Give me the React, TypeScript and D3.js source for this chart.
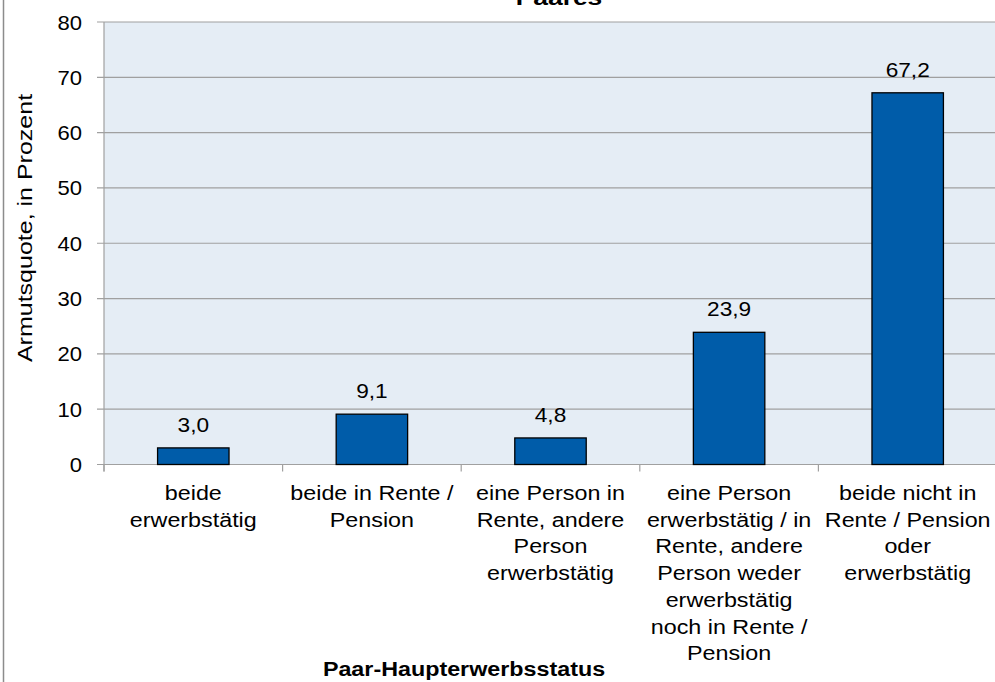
import React, { useEffect, useRef } from 'react';
import * as d3 from 'd3';

const categories: string[][] = [
  ['beide', 'erwerbstätig'],
  ['beide in Rente /', 'Pension'],
  ['eine Person in', 'Rente, andere', 'Person', 'erwerbstätig'],
  ['eine Person', 'erwerbstätig / in', 'Rente, andere', 'Person weder', 'erwerbstätig', 'noch in Rente /', 'Pension'],
  ['beide nicht in', 'Rente / Pension', 'oder', 'erwerbstätig'],
];
const values = [3.0, 9.1, 4.8, 23.9, 67.2];
const yTicks = [0, 10, 20, 30, 40, 50, 60, 70, 80];

const title = 'Paares';
const xTitle = 'Paar-Haupterwerbsstatus';
const yTitle = 'Armutsquote, in Prozent';

const fmt = (v: number) => v.toFixed(1).replace('.', ',');

export default function App() {
  const ref = useRef<SVGSVGElement>(null);

  useEffect(() => {
    const width = 995;
    const height = 682;
    const svg = d3.select(ref.current);
    svg.selectAll('*').remove();

    const left = 104;
    const right = 997;
    const top = 22;
    const bottom = 464.5;
    const font = 'Arial, "Liberation Sans", sans-serif';

    const x = d3.scaleBand<number>()
      .domain(d3.range(values.length))
      .range([left, right])
      .paddingInner(0)
      .paddingOuter(0);

    const y = d3.scaleLinear().domain([0, 80]).range([bottom, top]);

    // text stretched a bit horizontally, like the original rendering
    const text = (g: any, tx: number, ty: number, s: string, size: number, anchor: string, sx: number, weight = 'normal') =>
      g.append('text')
        .attr('transform', `translate(${tx},${ty}) scale(${sx},1)`)
        .attr('text-anchor', anchor)
        .attr('font-family', font)
        .attr('font-size', size)
        .attr('font-weight', weight)
        .attr('fill', '#000')
        .text(s);

    // outer frame line on the left
    svg.append('line')
      .attr('x1', 3.5).attr('x2', 3.5).attr('y1', 0).attr('y2', height)
      .attr('stroke', '#8c8c8c').attr('stroke-width', 1.5);

    // plot background
    svg.append('rect')
      .attr('x', left).attr('y', top)
      .attr('width', right - left).attr('height', bottom - top)
      .attr('fill', '#e5edf5');

    // gridlines
    svg.append('g').selectAll('line')
      .data(yTicks)
      .join('line')
      .attr('x1', left - 7).attr('x2', right)
      .attr('y1', d => y(d)).attr('y2', d => y(d))
      .attr('stroke', '#a0a0a0').attr('stroke-width', 1.2);

    // y axis line
    svg.append('line')
      .attr('x1', left).attr('x2', left).attr('y1', top).attr('y2', bottom + 7)
      .attr('stroke', '#a0a0a0').attr('stroke-width', 1.2);

    // x tick marks at band boundaries
    svg.append('g').selectAll('line')
      .data(d3.range(values.length + 1))
      .join('line')
      .attr('x1', d => left + d * x.bandwidth()).attr('x2', d => left + d * x.bandwidth())
      .attr('y1', bottom).attr('y2', bottom + 7)
      .attr('stroke', '#a0a0a0').attr('stroke-width', 1.2);

    // y tick labels
    const yl = svg.append('g');
    yTicks.forEach(t => text(yl, 82, y(t) + 7.5, String(t), 21, 'end', 1.05));

    // bars
    const bw = x.bandwidth() * 0.4;
    svg.append('g').selectAll('rect')
      .data(values)
      .join('rect')
      .attr('x', (_, i) => (x(i) as number) + (x.bandwidth() - bw) / 2)
      .attr('y', d => y(d))
      .attr('width', bw)
      .attr('height', d => y(0) - y(d))
      .attr('fill', '#005ca9')
      .attr('stroke', '#000')
      .attr('stroke-width', 1.3);

    // value labels
    const vl = svg.append('g');
    values.forEach((v, i) => text(vl, (x(i) as number) + x.bandwidth() / 2, y(v) - 16, fmt(v), 21, 'middle', 1.08));

    // category labels
    const cl = svg.append('g');
    categories.forEach((lines, i) => {
      lines.forEach((ln, j) => text(cl, (x(i) as number) + x.bandwidth() / 2, 500 + j * 26.7, ln, 21, 'middle', 1.11));
    });

    // titles
    text(svg, 559, 5, title, 22, 'middle', 1.2, 'bold');
    text(svg, 464, 676, xTitle, 21, 'middle', 1.11, 'bold');
    svg.append('text')
      .attr('transform', `translate(32,228) rotate(-90) scale(1.22,1)`)
      .attr('text-anchor', 'middle')
      .attr('font-family', font)
      .attr('font-size', 20.5)
      .attr('fill', '#000')
      .text(yTitle);

    svg.attr('width', width).attr('height', height);
  }, []);

  return (
    <svg ref={ref} width={995} height={682} style={{ position: 'absolute', left: 0, top: 0, background: '#fff' }} />
  );
}
